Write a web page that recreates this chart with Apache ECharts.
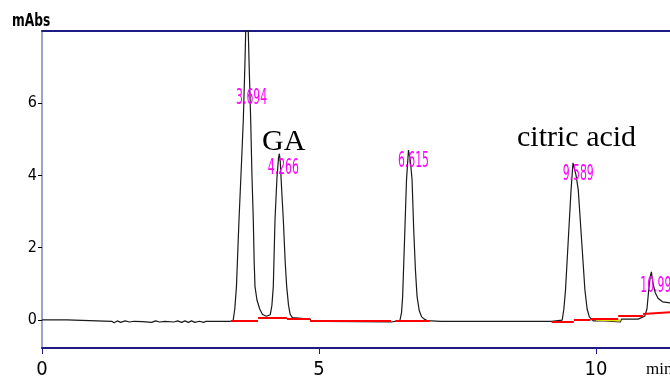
<!DOCTYPE html>
<html><head><meta charset="utf-8">
<script src="https://cdn.jsdelivr.net/npm/echarts@6/dist/echarts.min.js"></script>
<style>html,body{margin:0;padding:0;background:#fff}#c{width:670px;height:385px}</style>
</head><body><div id="c"></div>
<script>
// Chromatogram trace (retention time in min, absorbance in mAbs)
const traceMin = [0,0.45,0.47,1.26,1.30,1.36,1.42,1.50,1.58,1.66,1.82,1.98,2.05,2.12,2.22,2.38,2.45,2.52,2.58,2.64,2.70,2.76,2.84,2.92,2.96,3.40,
  3.45,3.48,3.51,3.556,3.60,3.634,3.665,3.686,3.70,3.713,3.74,3.767,3.79,3.814,3.83,3.845,3.88,3.93,3.98,4.05,
  4.12,4.15,4.175,4.206,4.24,4.27,4.285,4.30,4.33,4.356,4.39,4.417,4.45,4.48,4.52,4.84,4.86,5.1,5.12,6.30,6.32,
  6.46,6.49,6.51,6.55,6.58,6.615,6.625,6.65,6.68,6.71,6.74,6.77,6.81,6.85,6.90,6.95,7.2,9.2,
  9.39,9.42,9.45,9.50,9.55,9.585,9.60,9.64,9.68,9.74,9.80,9.84,9.88,9.95,10.16,10.17,10.44,10.46,10.76,10.88,
  10.92,10.95,10.98,11.00,11.03,11.07,11.12,11.2,11.34];
const traceAbs = [0,0,-0.04,-0.04,-0.08,-0.03,-0.07,-0.03,-0.06,-0.04,-0.05,-0.07,-0.03,-0.06,-0.04,-0.06,-0.03,-0.07,-0.03,-0.07,-0.03,-0.07,-0.04,-0.07,-0.04,-0.04,
  -0.02,0.3,0.92,2.77,4.3,5.54,7.2,8.6,9.6,8.6,7.0,5.54,4.0,2.77,1.6,0.92,0.55,0.3,0.15,0.1,
  0.14,0.4,0.92,2.77,3.9,4.5,4.6,4.4,3.5,2.77,1.6,0.92,0.4,0.15,0.06,0.02,-0.04,-0.04,-0.06,-0.06,-0.03,
  -0.02,0.2,0.65,2.49,3.88,4.7,4.72,4.4,3.88,2.49,1.4,0.65,0.25,0.09,0.02,-0.02,-0.04,-0.04,
  -0.01,0.3,0.83,2.22,3.6,4.35,4.3,4.0,3.6,2.22,0.83,0.3,0.08,-0.03,-0.03,-0.06,-0.06,0.02,0.02,0.1,
  0.3,0.8,1.2,1.33,1.0,0.75,0.6,0.5,0.47];
// Integration baselines [t0, y0, t1, y1]
const baselineSegs = [[3.41,-0.03,3.90,-0.03],[3.90,0.05,4.42,0.05],[4.42,0.02,4.84,0.02],[4.84,-0.02,6.30,-0.02],
  [6.38,-0.03,7.0,-0.03],[9.2,-0.04,9.6,-0.04],[9.6,-0.01,9.9,-0.01],[9.9,0.03,10.40,0.03],[10.40,0.11,10.85,0.11],[10.85,0.16,11.34,0.21]];
const yellowSegs = [[10.0,0.0,10.44,-0.02]];
// Peak retention-time labels
const peakLabels = ['3.694','4.266','6.615','9.589','10.99'];
const peakRT = [3.694,4.266,6.615,9.589,10.99];
const peakLabelAbs = [6.15,4.21,4.38,4.04,0.94];
const yTicks = [0,2,4,6];

const narrow = '"Liberation Sans Narrow","DejaVu Sans Condensed","Arial Narrow",sans-serif';
const serif = '"Liberation Serif","DejaVu Serif",serif';
const chart = echarts.init(document.getElementById('c'), null, {renderer:'canvas'});
const X_MAX = 11.336;
chart.setOption({
  animation:false,
  backgroundColor:'#fff',
  grid:{left:42,right:0,top:31,bottom:37},
  xAxis:[{
    type:'value',min:0,max:X_MAX,interval:5,position:'bottom',
    axisLine:{show:true,onZero:false,lineStyle:{color:'#1c1c84',width:2}},
    axisTick:{show:true,length:6,lineStyle:{color:'#1c1c84'}},
    axisLabel:{color:'#000',fontFamily:narrow,fontSize:20,margin:12,showMaxLabel:false},
    splitLine:{show:false}
  },{
    type:'value',min:0,max:X_MAX,position:'top',
    axisLine:{show:true,onZero:false,lineStyle:{color:'#1c1c84',width:2}},
    axisTick:{show:false},axisLabel:{show:false},splitLine:{show:false}
  }],
  yAxis:{
    type:'value',min:-0.78,max:8.0,
    axisLine:{show:true,onZero:false,lineStyle:{color:'#8080c4',width:1.5}},
    axisTick:{show:true,length:4,customValues:yTicks,lineStyle:{color:'#000'}},
    axisLabel:{color:'#000',fontFamily:narrow,fontSize:16,margin:5,customValues:yTicks},
    splitLine:{show:false}
  },
  series:[
    {type:'line',data:traceMin.map((t,i)=>[t,traceAbs[i]]),showSymbol:false,symbol:'none',
     lineStyle:{color:'#1a1a1a',width:1.2},z:3},
    {type:'lines',coordinateSystem:'cartesian2d',polyline:false,z:4,
     data:yellowSegs.map(s=>({coords:[[s[0],s[1]],[s[2],s[3]]]})),
     lineStyle:{color:'#e8e000',width:2,opacity:1}},
    {type:'lines',coordinateSystem:'cartesian2d',polyline:false,z:5,
     data:baselineSegs.map(s=>({coords:[[s[0],s[1]],[s[2],s[3]]]})),
     lineStyle:{color:'#ff0000',width:2,opacity:1}},
    {type:'custom',z:6,data:peakRT.map((t,i)=>[t,peakLabelAbs[i]]),
     renderItem:(params,api)=>{
       const p = api.coord([api.value(0),api.value(1)]);
       return {type:'text',x:p[0]+5,y:p[1],scaleX:0.55,
         style:{text:peakLabels[params.dataIndex],fill:'#ff00ff',
           font:'22px '+narrow,align:'center',verticalAlign:'middle'}};
     }}
  ],
  graphic:[
    {type:'text',left:12,top:13,scaleX:0.8,style:{text:'mAbs',fill:'#000',font:'bold 17px '+narrow}},
    {type:'text',left:262,top:127,style:{text:'GA',fill:'#000',font:'30px '+serif}},
    {type:'text',left:517,top:123,style:{text:'citric acid',fill:'#000',font:'30px '+serif}},
    {type:'text',left:646,top:361,style:{text:'min',fill:'#000',font:'17px '+serif}}
  ]
});
</script></body></html>
